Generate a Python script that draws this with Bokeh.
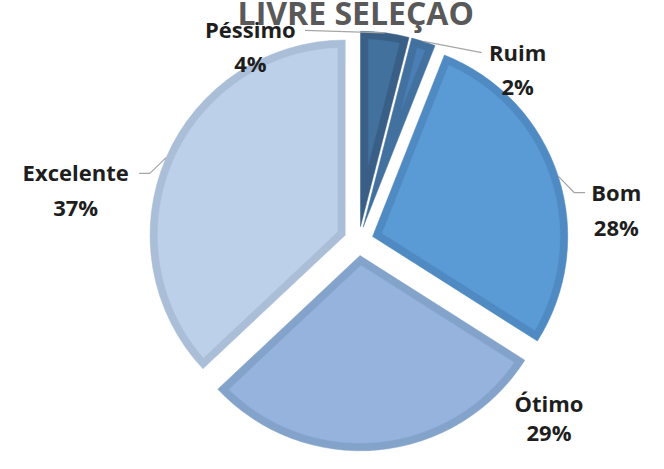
import numpy as np
from bokeh.plotting import figure
from bokeh.models import Range1d, ColumnDataSource
from bokeh.embed import file_html
from bokeh.resources import INLINE
from bokeh.core.properties import value

# ---------------- data ----------------
title_text = "LIVRE SELEÇÃO"
categories = ["Péssimo", "Ruim", "Bom", "Ótimo", "Excelente"]
values = [4, 2, 28, 29, 37]
pct_labels = ["4%", "2%", "28%", "29%", "37%"]
fill_colors = ["#41719c", "#4a7eb5", "#5b9bd5", "#95b3dc", "#bdd0ea"]
border_colors = ["#395f86", "#42719f", "#4f8ac2", "#84a3cb", "#abbed8"]

# label layout (reference pixel coordinates: center x, baseline y of each line)
label_x = [256, 530, 631, 562, 77]
label_y1 = [29, 53, 198, 417, 178]
label_y2 = [65, 89, 234, 447, 214]
# leader line anchor points near labels (None = no leader)
leader_anchor = [[(312, 31)], [(493, 54)], [(599, 199), (588, 199)], None,
                 [(142, 179), (153, 179)]]

# ---------------- geometry ----------------
W, H = 648, 453
RW, RH = 664, 469            # reference picture size (data units)
sx, sy = W / RW, H / RH       # screen px per data unit
cx, cy = 367.0, -249.0        # pie center
R = 200.0                     # radius (data x units)
D = 15.0                      # explosion distance
B = 8.0                       # inner border thickness

p = figure(width=W, height=H, x_range=Range1d(0, RW), y_range=Range1d(-RH, 0),
           output_backend="svg", toolbar_location=None, min_border=0)
p.axis.visible = False
p.grid.visible = False
p.outline_line_color = None
p.background_fill_color = "white"
p.border_fill_color = "white"

# geometry in screen pixels, converted to data units
Rs, Ds, Bs = R * sx, D * sx, B * sx

vals = np.array(values, dtype=float)
frac = vals / vals.sum()
f1 = np.cumsum(frac)
f0 = f1 - frac
mid = 2 * np.pi * (f0 + f1) / 2           # clockwise from top
ax = cx + Ds * np.sin(mid) / sx
ay = cy + Ds * np.cos(mid) / sy
start = np.pi / 2 - 2 * np.pi * f1
end = np.pi / 2 - 2 * np.pi * f0

src = ColumnDataSource(dict(x=ax, y=ay, start=start, end=end,
                            border=border_colors, fill=fill_colors, cat=categories))
p.wedge(x="x", y="y", radius=R, start_angle="start", end_angle="end",
        direction="anticlock", fill_color="border", line_color="border",
        line_width=0.5, source=src)

# inner (lighter) area of each slice, inset by B from every edge
xs, ys = [], []
delta = np.arcsin(Bs / (Rs - Bs))
for i in range(len(values)):
    h = np.pi * frac[i]
    m_ang = np.pi / 2 - mid[i]
    s = Bs / np.sin(h)
    px = [ax[i] + s * np.cos(m_ang) / sx]
    py = [ay[i] + s * np.sin(m_ang) / sy]
    a0, a1 = start[i] + delta, end[i] - delta
    if a1 > a0:
        t = np.linspace(a0, a1, 90)
        px += list(ax[i] + (Rs - Bs) * np.cos(t) / sx)
        py += list(ay[i] + (Rs - Bs) * np.sin(t) / sy)
    xs.append(px)
    ys.append(py)
p.patches(xs=xs, ys=ys, fill_color=fill_colors, line_color=fill_colors, line_width=0.5)

# leader lines
for i, anc in enumerate(leader_anchor):
    if anc is None:
        continue
    ex = ax[i] + Rs * np.sin(mid[i]) / sx
    ey = ay[i] + Rs * np.cos(mid[i]) / sy
    lx = [a[0] for a in anc] + [ex]
    ly = [-a[1] for a in anc] + [ey]
    p.line(lx, ly, line_color="#a6a6a6", line_width=1.2)

# labels
lab_src = ColumnDataSource(dict(x=label_x, y1=[-v for v in label_y1],
                                y2=[-v for v in label_y2],
                                cat=categories, pct=pct_labels))
common = dict(text_font=value("Open Sans"), text_font_style="bold", text_font_size="22px",
              text_align="center", text_baseline="alphabetic", text_color="#1e1e1e")
p.text(x="x", y="y1", text="cat", source=lab_src, **common)
p.text(x="x", y="y2", text="pct", source=lab_src, **common)

# title (cut at top as in the reference)
p.text(x=[364], y=[-12], text=[title_text], text_font=value("Open Sans"),
       text_font_style="bold", text_font_size="32px", text_align="center",
       text_baseline="alphabetic", text_color="#595959")

open("out.html", "w").write(file_html(p, INLINE))
